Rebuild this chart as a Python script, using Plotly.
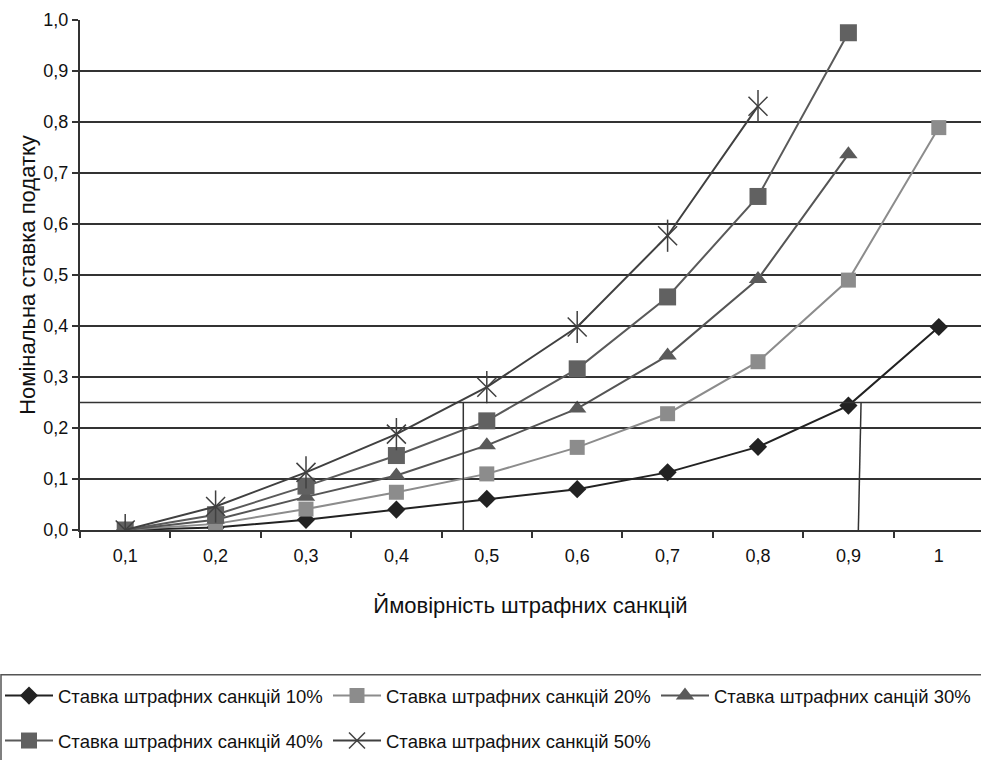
import plotly.graph_objects as go

# ---- data ----
categories = ["0,1", "0,2", "0,3", "0,4", "0,5", "0,6", "0,7", "0,8", "0,9", "1"]

s10 = [0.0, 0.005, 0.02, 0.04, 0.061, 0.080, 0.113, 0.163, 0.244, 0.398]
s20 = [0.0, 0.012, 0.041, 0.074, 0.110, 0.162, 0.228, 0.330, 0.490, 0.789]
s30 = [0.0, 0.020, 0.065, 0.107, 0.166, 0.238, 0.342, 0.492, 0.737]
s40 = [0.0, 0.030, 0.086, 0.146, 0.214, 0.316, 0.457, 0.654, 0.975]
s50 = [0.0, 0.046, 0.113, 0.188, 0.280, 0.398, 0.577, 0.831]

names = ["Ставка штрафних санкцій 10%", "Ставка штрафних санкцій 20%",
         "Ставка штрафних санцій 30%", "Ставка штрафних санкцій 40%",
         "Ставка штрафних санкцій 50%"]

y_ticks = [0.0, 0.1, 0.2, 0.3, 0.4, 0.5, 0.6, 0.7, 0.8, 0.9, 1.0]
y_ticktext = ["0,0", "0,1", "0,2", "0,3", "0,4", "0,5", "0,6", "0,7", "0,8", "0,9", "1,0"]

ref_level = 0.25
ref_left_x = 3.74           # category-index position of left drop line
ref_right_x = [8.11, 8.14]  # bottom, top

FONT = "Arial, 'Liberation Sans', sans-serif"
TXT = "#111111"

fig = go.Figure()

fig.add_trace(go.Scatter(x=categories[:len(s10)], y=s10, name=names[0], mode="lines+markers",
                         line=dict(color="#222222", width=2),
                         marker=dict(symbol="diamond", size=14, color="#222222"),
                         legend="legend"))
fig.add_trace(go.Scatter(x=categories[:len(s20)], y=s20, name=names[1], mode="lines+markers",
                         line=dict(color="#8c8c8c", width=2),
                         marker=dict(symbol="square", size=15, color="#8c8c8c"),
                         legend="legend"))
fig.add_trace(go.Scatter(x=categories[:len(s30)], y=s30, name=names[2], mode="lines+markers",
                         line=dict(color="#555555", width=2),
                         marker=dict(symbol="triangle-up", size=16, color="#5a5a5a"),
                         legend="legend"))
fig.add_trace(go.Scatter(x=categories[:len(s40)], y=s40, name=names[3], mode="lines+markers",
                         line=dict(color="#5a5a5a", width=2),
                         marker=dict(symbol="square", size=17, color="#616161"),
                         legend="legend2"))
fig.add_trace(go.Scatter(x=categories[:len(s50)], y=s50, name=names[4], mode="lines+markers",
                         line=dict(color="#404040", width=2),
                         marker=dict(symbol="x-thin-open", size=19, color="#404040",
                                     line=dict(color="#404040", width=1.5)),
                         legend="legend2"))
fig.add_trace(go.Scatter(x=categories[:len(s50)], y=s50, mode="markers", showlegend=False,
                         marker=dict(symbol="line-ns-open", size=23, color="#404040",
                                     line=dict(color="#404040", width=1.5)),
                         hoverinfo="skip"))

shapes = []
shapes.append(dict(type="line", xref="x domain", yref="y", x0=0, x1=1,
                   y0=ref_level, y1=ref_level, line=dict(color="#333333", width=1.5)))
shapes.append(dict(type="line", xref="x", yref="y", x0=ref_left_x, x1=ref_left_x,
                   y0=0, y1=ref_level, line=dict(color="#333333", width=1.5)))
shapes.append(dict(type="line", xref="x", yref="y", x0=ref_right_x[0], x1=ref_right_x[1],
                   y0=0, y1=ref_level, line=dict(color="#333333", width=1.5)))
# legend box
shapes.append(dict(type="rect", xref="paper", yref="paper",
                   x0=(1 - 80) / 901, x1=1.02, y0=(531 - 676) / 511, y1=(531 - 775) / 511,
                   line=dict(color="#555555", width=1.5), fillcolor="rgba(0,0,0,0)"))

legend_common = dict(orientation="h", x=(0 - 80) / 901, xanchor="left", yanchor="middle",
                     font=dict(family=FONT, size=18.5, color=TXT),
                     bgcolor="rgba(0,0,0,0)", entrywidth=265, entrywidthmode="pixels",
                     itemwidth=48, traceorder="normal")

fig.update_layout(
    width=981, height=760,
    margin=dict(l=80, r=0, t=20, b=229),
    paper_bgcolor="white", plot_bgcolor="white",
    font=dict(family=FONT, size=18, color=TXT),
    shapes=shapes,
    showlegend=True,
    legend=dict(y=(531 - 696) / 511, **legend_common),
    legend2=dict(y=(531 - 743) / 511, **legend_common),
)

fig.update_xaxes(
    type="category", categoryorder="array", categoryarray=categories,
    range=[-0.5, 9.5 - 3 / 90.4],
    showline=True, linecolor="#333333", linewidth=2,
    ticks="outside", tickson="boundaries", ticklen=6, tickcolor="#333333", tickwidth=2,
    showgrid=False, zeroline=False,
    tickfont=dict(size=18, color=TXT), ticklabelstandoff=8,
    title=dict(text="Ймовірність штрафних санкцій", font=dict(size=22, color=TXT), standoff=33),
)
fig.update_yaxes(
    range=[0, 1.0], tickvals=y_ticks, ticktext=y_ticktext,
    showline=True, linecolor="#333333", linewidth=2,
    ticks="outside", ticklen=6, tickcolor="#333333", tickwidth=2,
    showgrid=True, gridcolor="#333333", gridwidth=1.5, zeroline=False,
    tickfont=dict(size=18, color=TXT),
    title=dict(text="Номінальна ставка податку", font=dict(size=22, color=TXT), standoff=2),
)

fig.write_html("out.html")
